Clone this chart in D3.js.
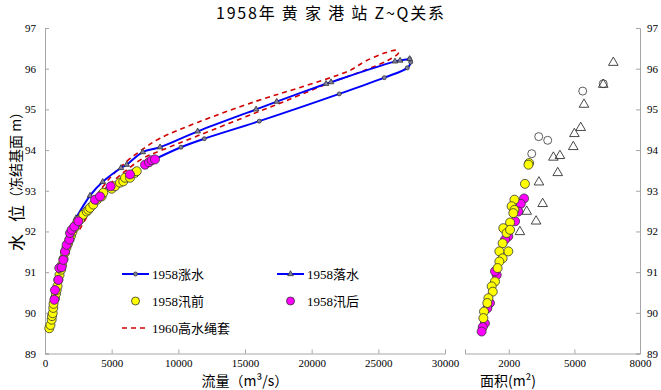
<!DOCTYPE html>
<html>
<head>
<meta charset="utf-8">
<script src="https://cdn.jsdelivr.net/npm/d3@7"></script>
<style>
  body { margin: 0; background: #fff; }
  svg text { fill: #000; }
  .axis path, .axis line { stroke: #a6a6a6; }
  .axis text { font-family: "Liberation Serif", serif; font-size: 11px; }
</style>
</head>
<body>
<svg id="chart" width="661" height="390"></svg>
<script>
// 1958 rising limb (Q m3/s, Z m)
var rising = [[7875, 93.72], [10200, 94.07], [11950, 94.28], [16070, 94.71], [22070, 95.38],
    [25450, 95.78], [27170, 96.02], [27430, 96.16], [27350, 96.24]];
// 1958 falling limb
var falling = [[27350, 96.24], [26630, 96.20], [26250, 96.18], [21450, 95.67], [21080, 95.63],
    [17380, 95.19], [15830, 95.00], [11450, 94.46], [8630, 94.07], [7330, 93.95], [6130, 93.64],
    [5700, 93.56], [4330, 93.22], [3380, 92.88], [2330, 92.33]];
// 1960 high water loop (lower branch up, then upper branch down)
var loop1960 = [[2600, 92.05], [3400, 92.50], [4370, 93.00], [5630, 93.38], [7370, 93.80],
    [8630, 93.98], [11450, 94.35], [15830, 94.92], [18000, 95.20], [21100, 95.62], [24130, 95.98],
    [25800, 96.22], [26500, 96.38], [26420, 96.45], [25600, 96.40], [24000, 96.18], [22880, 95.96],
    [19130, 95.54], [15830, 95.20], [11450, 94.68], [8630, 94.29], [7370, 94.03], [6130, 93.72],
    [4880, 93.32], [3900, 92.90]];
// 1958 before flood season
var preFlood = [[320, 89.62], [410, 89.70], [500, 89.83], [525, 89.92], [580, 89.99], [620, 90.12],
    [640, 90.22], [750, 90.36], [825, 90.47], [880, 90.56], [940, 90.66], [1000, 90.81], [1090, 90.93],
    [1200, 91.06], [1275, 91.18], [1390, 91.33], [1500, 91.48], [1610, 91.60], [1725, 91.70],
    [1840, 91.80], [1950, 91.89], [2060, 91.99], [2210, 92.09], [2400, 92.21], [2625, 92.29],
    [2870, 92.41], [3125, 92.49], [3250, 92.53], [3375, 92.58], [3620, 92.66], [3900, 92.78],
    [4250, 92.86], [4370, 92.95], [5000, 93.05], [5250, 93.11], [5625, 93.20], [5870, 93.23],
    [6000, 93.32], [6375, 93.32], [6750, 93.44], [6880, 93.48]];
// 1958 after flood season
var postFlood = [[700, 90.32], [750, 90.56], [1000, 90.81], [1070, 91.10], [1250, 91.12],
    [1375, 91.30], [1500, 91.51], [1625, 91.67], [1825, 91.80], [1875, 91.96], [2000, 92.04],
    [2200, 92.12], [2500, 92.25], [3750, 92.78], [4125, 92.86], [4925, 93.11], [6375, 93.40],
    [7500, 93.64], [7800, 93.70], [8000, 93.75], [8250, 93.77]];

// area panel (m2, Z m)
var areaRising = [[6320, 95.63], [5380, 95.45], [3780, 94.24], [3370, 94.33], [3050, 93.91]];
var areaFalling = [[6780, 96.15], [6320, 95.61], [5440, 95.12], [5290, 94.55], [5000, 94.40],
    [4950, 94.08], [4340, 93.86], [4040, 93.82], [4240, 93.44], [3380, 93.21], [3550, 92.68],
    [2820, 92.49], [3250, 92.25], [2510, 91.99]];
var areaPre = [[2930, 93.68], [2900, 93.64], [2740, 93.17], [2260, 92.78], [2130, 92.62],
    [2260, 92.53], [2210, 92.45], [2060, 92.22], [1750, 92.08], [1900, 91.96], [2060, 92.04],
    [1980, 91.51], [1720, 91.71], [1570, 91.51], [1720, 91.34], [1570, 91.26], [1490, 91.10],
    [1370, 90.77], [1220, 90.65], [1270, 90.52], [1070, 90.36], [1020, 90.24], [870, 90.03], [840, 89.87]];
var areaPost = [[2700, 92.81], [2550, 92.68], [2440, 92.49], [2290, 92.25], [1980, 91.88],
    [1830, 91.80], [1450, 90.93], [1370, 91.02], [1140, 90.24], [1020, 90.11], [910, 89.74],
    [810, 89.65], [760, 89.54]];

var zTicks = [89, 90, 91, 92, 93, 94, 95, 96, 97];
var qTicks = [0, 5000, 10000, 15000, 20000, 25000, 30000];
var aTicks = [2000, 5000, 8000];

var svg = d3.select("#chart");

var x = d3.scaleLinear().domain([0, 30000]).range([45, 445]);
var xa = d3.scaleLinear().domain([0, 8000]).range([465, 640]);
var y = d3.scaleLinear().domain([89, 97]).range([353.5, 28]);

// axes
svg.append("g").attr("class", "axis").attr("transform", "translate(45,0)")
    .call(d3.axisLeft(y).tickValues(zTicks).tickFormat(d3.format("d")).tickSize(-4).tickPadding(9));
svg.append("g").attr("class", "axis").attr("transform", "translate(640,0)")
    .call(d3.axisRight(y).tickValues(zTicks).tickFormat(d3.format("d")).tickSize(-4).tickPadding(7));
svg.append("g").attr("class", "axis").attr("transform", "translate(0,353.5)")
    .call(d3.axisBottom(x).tickValues(qTicks).tickFormat(d3.format("d")).tickSize(-4).tickPadding(6));
svg.append("g").attr("class", "axis").attr("transform", "translate(0,353.5)")
    .call(d3.axisBottom(xa).tickValues(aTicks).tickFormat(d3.format("d")).tickSize(-4).tickPadding(6));

// titles
svg.append("text").attr("x", 330).attr("y", 19).attr("text-anchor", "middle")
    .attr("textLength", 228).attr("lengthAdjust", "spacing")
    .style("font-family", "'Noto Sans CJK SC'").style("font-size", "16px")
    .text("1958年 黄 家 港 站 Z~Q关系");

svg.append("text").attr("x", 245).attr("y", 386).attr("text-anchor", "middle")
    .style("font-family", "'Noto Sans CJK SC'").style("font-size", "14px")
    .text("流量（m³/s）");
svg.append("text").attr("x", 508).attr("y", 386).attr("text-anchor", "middle")
    .style("font-family", "'Noto Sans CJK SC'").style("font-size", "14px")
    .text("面积(m²)");

var yTitle = svg.append("text").attr("transform", "translate(15,251) rotate(-90)")
    .attr("dominant-baseline", "central")
    .style("font-family", "'Noto Sans CJK SC'");
yTitle.append("tspan").style("font-size", "17px").text("水");
yTitle.append("tspan").attr("dx", 12).style("font-size", "17px").text("位");
yTitle.append("tspan").style("font-size", "14px").text("（冻结基面 m）");

// lines
var line = d3.line().x(function(d) { return x(d[0]); }).y(function(d) { return y(d[1]); })
    .curve(d3.curveCatmullRom.alpha(0.5));

svg.append("path").datum(loop1960).attr("d", line)
    .attr("fill", "none").attr("stroke", "#d00000").attr("stroke-width", 1.6)
    .attr("stroke-dasharray", "5,4");

svg.append("path").datum(rising).attr("d", line)
    .attr("fill", "none").attr("stroke", "#0000ff").attr("stroke-width", 2);
svg.append("path").datum(falling).attr("d", line)
    .attr("fill", "none").attr("stroke", "#0000ff").attr("stroke-width", 2);

var tri = d3.symbol().type(d3.symbolTriangle);

svg.append("g").selectAll("circle").data(rising).enter().append("circle")
    .attr("cx", function(d) { return x(d[0]); }).attr("cy", function(d) { return y(d[1]); })
    .attr("r", 2).attr("fill", "#8080a0").attr("stroke", "#333").attr("stroke-width", 0.8);
svg.append("g").selectAll("path").data(falling).enter().append("path")
    .attr("d", tri.size(14))
    .attr("transform", function(d) { return "translate(" + x(d[0]) + "," + y(d[1]) + ")"; })
    .attr("fill", "#8080a0").attr("stroke", "#333").attr("stroke-width", 0.8);

// scatter
function dots(data, sx, fill, r) {
    svg.append("g").selectAll("circle").data(data).enter().append("circle")
        .attr("cx", function(d) { return sx(d[0]); }).attr("cy", function(d) { return y(d[1]); })
        .attr("r", r).attr("fill", fill).attr("stroke", "#333").attr("stroke-width", 0.8);
}
dots(preFlood, x, "#ffff00", 4.5);
dots(postFlood, x, "#ff00ff", 4.5);

dots(areaPost, xa, "#ff00ff", 4.5);
dots(areaPre, xa, "#ffff00", 4.5);
dots(areaRising, xa, "#fff", 4);
svg.append("g").selectAll("path").data(areaFalling).enter().append("path")
    .attr("d", d3.symbol().type(d3.symbolTriangle).size(40))
    .attr("transform", function(d) { return "translate(" + xa(d[0]) + "," + y(d[1]) + ")"; })
    .attr("fill", "none").attr("stroke", "#333").attr("stroke-width", 0.9);

// legend
var lg = svg.append("g").style("font-family", "'Liberation Serif', 'Noto Sans CJK SC'").style("font-size", "13px");
var lgItems = [
    { label: "1958涨水", x: 122, y: 274, kind: "rise" },
    { label: "1958落水", x: 277, y: 274, kind: "fall" },
    { label: "1958汛前", x: 122, y: 301, kind: "pre" },
    { label: "1958汛后", x: 277, y: 301, kind: "post" },
    { label: "1960高水绳套", x: 122, y: 328, kind: "loop" }
];
lgItems.forEach(function(it) {
    var cx = it.x + 13.5;
    if (it.kind === "rise" || it.kind === "fall") {
        lg.append("line").attr("x1", it.x).attr("x2", it.x + 27).attr("y1", it.y).attr("y2", it.y)
            .attr("stroke", "#0000ff").attr("stroke-width", 2);
        if (it.kind === "rise") {
            lg.append("circle").attr("cx", cx).attr("cy", it.y).attr("r", 2)
                .attr("fill", "#8080a0").attr("stroke", "#333").attr("stroke-width", 0.8);
        } else {
            lg.append("path").attr("d", tri.size(14)).attr("transform", "translate(" + cx + "," + it.y + ")")
                .attr("fill", "#8080a0").attr("stroke", "#333").attr("stroke-width", 0.8);
        }
    } else if (it.kind === "loop") {
        lg.append("line").attr("x1", it.x).attr("x2", it.x + 27).attr("y1", it.y).attr("y2", it.y)
            .attr("stroke", "#d00000").attr("stroke-width", 1.6).attr("stroke-dasharray", "5,4");
    } else {
        lg.append("circle").attr("cx", cx).attr("cy", it.y).attr("r", 4)
            .attr("fill", it.kind === "pre" ? "#ffff00" : "#ff00ff")
            .attr("stroke", "#333").attr("stroke-width", 0.8);
    }
    lg.append("text").attr("x", it.x + 30).attr("y", it.y).attr("dy", "0.35em").text(it.label);
});
</script>
</body>
</html>
